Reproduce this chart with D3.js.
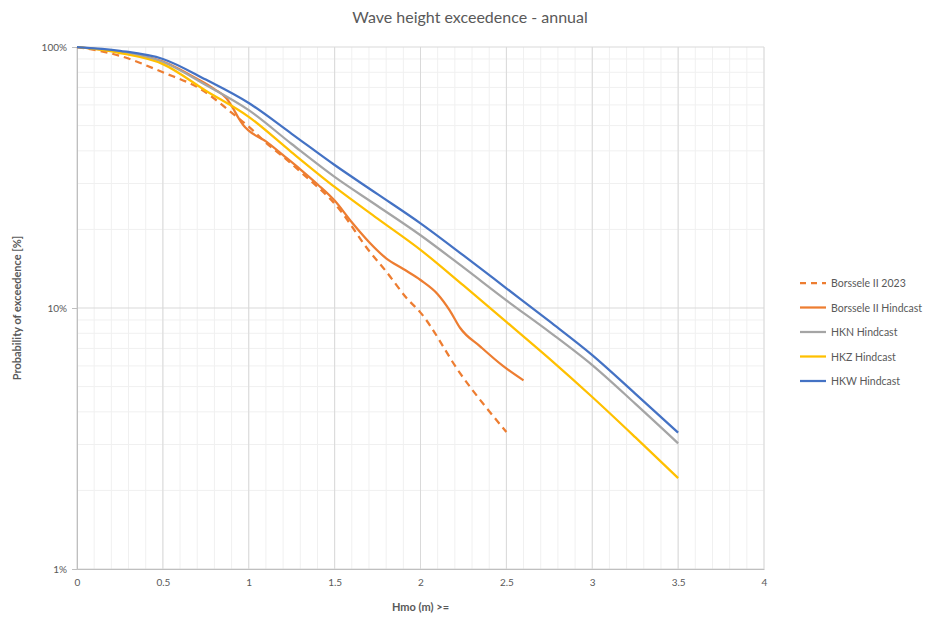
<!DOCTYPE html>
<html>
<head>
<meta charset="utf-8">
<script src="https://cdn.jsdelivr.net/npm/d3@7"></script>
<style>
  body { margin: 0; background: #fff; }
  text { font-family: Lato, "Open Sans", sans-serif; }
</style>
</head>
<body>
<div id="chart"></div>
<script>
// Data (x = Hmo in m, y = probability as fraction)
const hkX = [0, 0.25, 0.5, 0.75, 1, 1.25, 1.5, 1.75, 2, 2.25, 2.5, 2.75, 3, 3.25, 3.5];
const hkwY = [1, 0.967, 0.90, 0.75, 0.61, 0.465, 0.353, 0.273, 0.211, 0.159, 0.119, 0.089, 0.066, 0.047, 0.0333];
const hknY = [1, 0.958, 0.876, 0.715, 0.573, 0.425, 0.318, 0.246, 0.190, 0.143, 0.107, 0.081, 0.0604, 0.043, 0.0303];
const hkzY = [1, 0.948, 0.86, 0.68, 0.54, 0.395, 0.291, 0.22, 0.167, 0.122, 0.0885, 0.064, 0.0456, 0.032, 0.0223];

const bHindX = [0, 0.25, 0.5, 0.7, 0.8, 0.87, 0.91, 0.94, 0.97, 1.0, 1.1, 1.2, 1.3, 1.4, 1.5, 1.6, 1.7, 1.8, 1.9, 2.0, 2.1, 2.17, 2.23, 2.35, 2.48, 2.6];
const bHindY = [1, 0.955, 0.88, 0.755, 0.69, 0.636, 0.58, 0.535, 0.50, 0.478, 0.435, 0.385, 0.34, 0.298, 0.258, 0.213, 0.179, 0.155, 0.141, 0.128, 0.113, 0.098, 0.084, 0.071, 0.060, 0.0528];

const b2023X = [0, 0.25, 0.5, 0.72, 0.93, 1.0, 1.1, 1.2, 1.3, 1.53, 1.69, 1.8, 1.92, 2.0, 2.23, 2.5];
const b2023Y = [1, 0.925, 0.80, 0.69, 0.54, 0.495, 0.43, 0.38, 0.333, 0.238, 0.169, 0.138, 0.109, 0.096, 0.0563, 0.0335];

const xTicks = [0, 0.5, 1, 1.5, 2, 2.5, 3, 3.5, 4];
const yTicks = [0.01, 0.1, 1];
const yTickLabels = ['1%', '10%', '100%'];

const series = [
  { name: 'Borssele II 2023', xs: b2023X, ys: b2023Y, color: '#ED7D31', dash: '7,5' },
  { name: 'Borssele II Hindcast', xs: bHindX, ys: bHindY, color: '#ED7D31', dash: null },
  { name: 'HKN Hindcast', xs: hkX, ys: hknY, color: '#A5A5A5', dash: null },
  { name: 'HKZ Hindcast', xs: hkX, ys: hkzY, color: '#FFC000', dash: null },
  { name: 'HKW Hindcast', xs: hkX, ys: hkwY, color: '#4472C4', dash: null }
];

const width = 936, height = 617;
const margin = { top: 47, right: 172, bottom: 48, left: 77 };
const innerWidth = width - margin.left - margin.right;
const innerHeight = height - margin.top - margin.bottom;
const textColor = '#595959';

const svg = d3.select('#chart').append('svg')
  .attr('width', width)
  .attr('height', height);

const g = svg.append('g')
  .attr('transform', `translate(${margin.left},${margin.top})`);

const x = d3.scaleLinear().domain([0, 4]).range([0, innerWidth]);
const y = d3.scaleLog().domain([0.01, 1]).range([innerHeight, 0]);

// Minor grid
g.selectAll('.vminor')
  .data(d3.range(0, 41).map(i => i / 10))
  .enter().append('line')
  .attr('x1', d => x(d)).attr('x2', d => x(d))
  .attr('y1', 0).attr('y2', innerHeight)
  .attr('stroke', '#f0f0f0');

const minorY = [];
[0.01, 0.1].forEach(dec => { for (let k = 2; k <= 9; k++) minorY.push(dec * k); });
g.selectAll('.hminor')
  .data(minorY)
  .enter().append('line')
  .attr('x1', 0).attr('x2', innerWidth)
  .attr('y1', d => y(d)).attr('y2', d => y(d))
  .attr('stroke', '#f0f0f0');

// Major grid
g.selectAll('.vmajor')
  .data(xTicks)
  .enter().append('line')
  .attr('x1', d => x(d)).attr('x2', d => x(d))
  .attr('y1', 0).attr('y2', innerHeight)
  .attr('stroke', '#d9d9d9');

g.selectAll('.hmajor')
  .data(yTicks)
  .enter().append('line')
  .attr('x1', 0).attr('x2', innerWidth)
  .attr('y1', d => y(d)).attr('y2', d => y(d))
  .attr('stroke', '#d9d9d9');

// Axes
const xAxis = g.append('g')
  .attr('transform', `translate(0,${innerHeight})`)
  .call(d3.axisBottom(x).tickValues(xTicks).tickSize(0).tickPadding(10).tickFormat(d3.format('')));
xAxis.select('.domain').attr('stroke', '#bfbfbf');
xAxis.selectAll('text').attr('fill', textColor).attr('font-size', '10px')
  .style('font-family', 'Lato, sans-serif');

const yAxis = g.append('g')
  .call(d3.axisLeft(y).tickValues(yTicks).tickSize(5).tickPadding(5)
    .tickFormat((d, i) => yTickLabels[i]));
yAxis.select('.domain').attr('stroke', '#bfbfbf');
yAxis.selectAll('line').attr('stroke', '#bfbfbf');
yAxis.selectAll('text').attr('fill', textColor).attr('font-size', '10px')
  .style('font-family', 'Lato, sans-serif');

// Lines
const line = d3.line()
  .x(d => x(d[0]))
  .y(d => y(d[1]))
  .curve(d3.curveMonotoneX);

series.forEach(s => {
  g.append('path')
    .datum(s.xs.map((v, i) => [v, s.ys[i]]))
    .attr('fill', 'none')
    .attr('stroke', s.color)
    .attr('stroke-width', 2.25)
    .attr('stroke-dasharray', s.dash)
    .attr('d', line);
});

// Title
svg.append('text')
  .attr('x', 470).attr('y', 23)
  .attr('text-anchor', 'middle')
  .attr('fill', textColor)
  .attr('font-size', '16px')
  .text('Wave height exceedence - annual');

// Axis titles
svg.append('text')
  .attr('transform', `translate(21,${margin.top + innerHeight / 2}) rotate(-90)`)
  .attr('text-anchor', 'middle')
  .attr('fill', textColor)
  .attr('font-size', '11px')
  .style('font-weight', 'bold')
  .text('Probability of exceedence [%]');

svg.append('text')
  .attr('x', margin.left + innerWidth / 2).attr('y', 611)
  .attr('text-anchor', 'middle')
  .attr('fill', textColor)
  .attr('font-size', '11px')
  .style('font-weight', 'bold')
  .text('Hmo (m) >=');

// Legend
const legend = svg.append('g').attr('transform', 'translate(800,283)');
series.forEach((s, i) => {
  const item = legend.append('g').attr('transform', `translate(0,${i * 24.5})`);
  item.append('line')
    .attr('x1', 0).attr('x2', 26)
    .attr('y1', 0).attr('y2', 0)
    .attr('stroke', s.color)
    .attr('stroke-width', 2.25)
    .attr('stroke-dasharray', s.dash ? '6,5' : null);
  item.append('text')
    .attr('x', 31).attr('y', 4)
    .attr('fill', textColor)
    .attr('font-size', '10.5px')
    .text(s.name);
});
</script>
</body>
</html>
